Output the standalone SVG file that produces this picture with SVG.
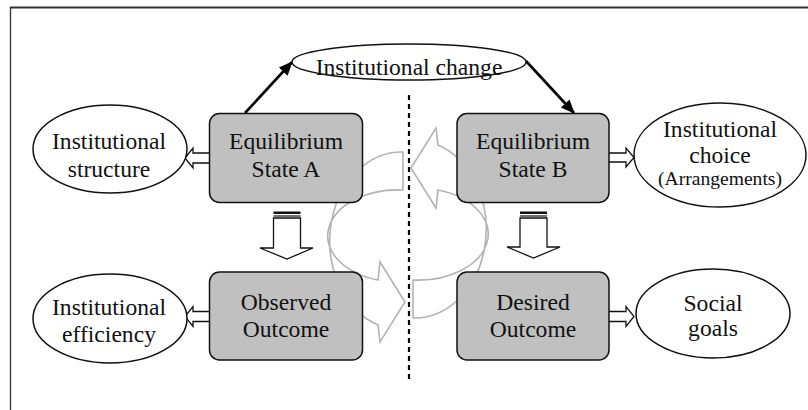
<svg xmlns="http://www.w3.org/2000/svg" width="808" height="410" viewBox="0 0 808 410">
<defs>
<style>
.t{font-family:"Liberation Serif","Times New Roman",serif;font-size:23.6px;text-anchor:middle;fill:#111}
.s{font-size:19.6px}
.box{fill:#c0c0c0;stroke:#111;stroke-width:1.5}
.ell{fill:#fff;stroke:#111;stroke-width:1.5}
.cyc{fill:#fff;stroke:#b3b3b3;stroke-width:1.6}
.blk{fill:#fff;stroke:#111;stroke-width:1.3}
.con{stroke:#000;stroke-width:2.6;fill:none}
</style>
<marker id="ah" markerUnits="userSpaceOnUse" markerWidth="14" markerHeight="12" refX="13" refY="6" orient="auto">
<path d="M0,0 L14,6 L0,12 z" fill="#000"/>
</marker>
<path id="cycArrow" d="M403,152 A72,89 0 0 0 378,325 L380,342 L405,302 L380,262 L378,280 A70,46 0 0 1 403,190 Z"/>
</defs>
<rect width="808" height="410" fill="#fff"/>
<g id="frame" stroke="#333" fill="none">
<line x1="10" y1="7.5" x2="808" y2="7.5" stroke-width="2.2"/>
<line x1="10.5" y1="7" x2="10.5" y2="410" stroke-width="1.3"/>
</g>
<g id="cycle">
<use href="#cycArrow" class="cyc"/>
<use href="#cycArrow" class="cyc" transform="rotate(180 408 235)"/>
</g>
<line id="divider" x1="409" y1="95" x2="409" y2="380" stroke="#000" stroke-width="2.2" stroke-dasharray="5,4"/>
<g id="connectors">
<line class="con" x1="245" y1="113" x2="292" y2="62" marker-end="url(#ah)"/>
<line class="con" x1="526" y1="61" x2="574" y2="113" marker-end="url(#ah)"/>
<path class="blk" d="M210,153 L193,153 L193,148 L185,158 L193,168 L193,163 L210,163 Z"/>
<path class="blk" d="M210,311.5 L193,311.5 L193,306.5 L185,316.5 L193,326.5 L193,321.5 L210,321.5 Z"/>
<path class="blk" d="M608,153 L626,153 L626,148 L634,157.5 L626,167 L626,162 L608,162 Z"/>
<path class="blk" d="M608,311.5 L626,311.5 L626,306.5 L634,316.5 L626,326.5 L626,321.5 L608,321.5 Z"/>
<g id="downA">
<path class="blk" d="M273.5,218 L273.5,248 L260,248 L287,259 L313,248 L300.5,248 L300.5,218 Z"/>
<rect x="273.5" y="211.5" width="27" height="2.5" fill="#111"/>
<line x1="273.5" y1="216" x2="300.5" y2="216" stroke="#111" stroke-width="1.2"/>
</g>
<g id="downB">
<path class="blk" d="M520,218 L520,247 L507,247 L533.5,258 L560,247 L547,247 L547,218 Z"/>
<rect x="520" y="211.5" width="27" height="2.5" fill="#111"/>
<line x1="520" y1="216" x2="547" y2="216" stroke="#111" stroke-width="1.2"/>
</g>
</g>
<g id="change">
<ellipse class="ell" cx="409" cy="62" rx="117" ry="18"/>
<text class="t" x="409" y="75">Institutional change</text>
</g>
<g id="stateA">
<rect class="box" x="209.5" y="113.5" width="153" height="89" rx="10"/>
<text class="t" x="286" y="149">Equilibrium</text>
<text class="t" x="286" y="177">State A</text>
</g>
<g id="stateB">
<rect class="box" x="457" y="113.5" width="152" height="89" rx="10"/>
<text class="t" x="533" y="149">Equilibrium</text>
<text class="t" x="533" y="177">State B</text>
</g>
<g id="observed">
<rect class="box" x="209.5" y="272" width="153" height="88" rx="10"/>
<text class="t" x="286" y="310">Observed</text>
<text class="t" x="286" y="337">Outcome</text>
</g>
<g id="desired">
<rect class="box" x="457" y="272" width="152" height="88" rx="10"/>
<text class="t" x="533" y="310">Desired</text>
<text class="t" x="533" y="337">Outcome</text>
</g>
<g id="structure">
<ellipse class="ell" cx="110" cy="149" rx="77" ry="44"/>
<text class="t" x="109" y="149">Institutional</text>
<text class="t" x="109" y="177">structure</text>
</g>
<g id="efficiency">
<ellipse class="ell" cx="110" cy="318.5" rx="77" ry="44.5"/>
<text class="t" x="109" y="315">Institutional</text>
<text class="t" x="109" y="342">efficiency</text>
</g>
<g id="choice">
<ellipse class="ell" cx="720" cy="155" rx="86" ry="52"/>
<text class="t" x="720" y="137">Institutional</text>
<text class="t" x="720" y="163">choice</text>
<text class="t s" x="720" y="185">(Arrangements)</text>
</g>
<g id="social">
<ellipse class="ell" cx="713" cy="313.5" rx="77" ry="44.5"/>
<text class="t" x="713" y="311">Social</text>
<text class="t" x="713" y="336">goals</text>
</g>
</svg>
